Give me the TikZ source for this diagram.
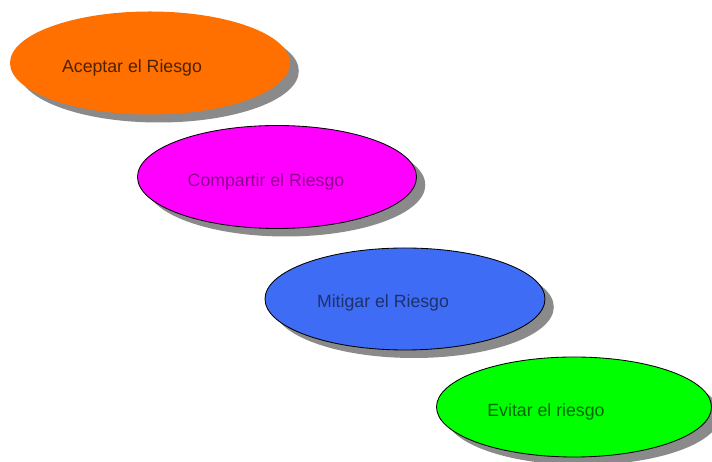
\documentclass[tikz,border=0pt]{standalone}
\usepackage{fontspec}
\setmainfont{Liberation Sans}
\usetikzlibrary{shapes.geometric, shadows}
\definecolor{riskOrange}{HTML}{FF7000}
\definecolor{riskMagenta}{HTML}{FF00FF}
\definecolor{riskBlue}{HTML}{3F6CF4}
\definecolor{riskGreen}{HTML}{00FF00}
\definecolor{shadowGray}{HTML}{8A8A8A}

\begin{document}
\begin{tikzpicture}[
    riesgo/.style={ellipse, minimum width=7cm, minimum height=2.575cm, inner sep=0pt,
      draw=black, line width=0.6pt,
      drop shadow={shadow xshift=0.22cm, shadow yshift=-0.2cm, fill=shadowGray, opacity=1}},
    etiqueta/.style={font=\fontsize{12.6}{15}\selectfont, inner sep=0pt}]
        \useasboundingbox (0,0) rectangle (17.8,11.55);
        % las cuatro respuestas al riesgo
        \node[riesgo, fill=riskOrange, draw=none] (aceptar) at (3.75,9.975) {};
        \node[riesgo, fill=riskMagenta, minimum width=6.975cm] (compartir) at (6.925,7.125) {};
        \node[riesgo, fill=riskBlue, minimum height=2.55cm] (mitigar) at (10.125,4.075) {};
        \node[riesgo, fill=riskGreen, minimum width=6.875cm, minimum height=2.5cm] (evitar) at (14.35,1.375) {};
        % textos
        \node[etiqueta, text=riskOrange!30!black, xshift=-0.45cm, yshift=-0.125cm] (aceptarTxt) at (aceptar) {Aceptar el Riesgo};
        \node[etiqueta, text=riskMagenta!55!black, xshift=-0.275cm, yshift=-0.125cm] (compartirTxt) at (compartir) {Compartir el Riesgo};
        \node[etiqueta, text=riskBlue!45!black, xshift=-0.55cm, yshift=-0.1cm] (mitigarTxt) at (mitigar) {Mitigar el Riesgo};
        \node[etiqueta, text=riskGreen!40!black, xshift=-0.7cm, yshift=-0.125cm] (evitarTxt) at (evitar) {Evitar el riesgo};
      \end{tikzpicture}
\end{document}
